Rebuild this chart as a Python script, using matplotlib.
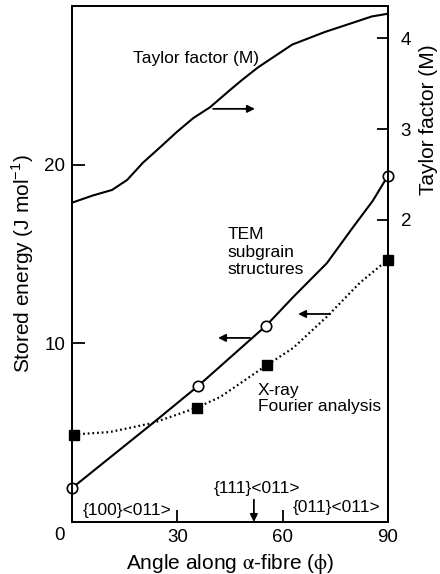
import matplotlib
matplotlib.use("Agg")
import matplotlib.pyplot as plt

plt.rcParams['font.family'] = ['Liberation Sans', 'DejaVu Sans']

# stored energy measurements (J/mol) vs angle along the alpha-fibre
tem_angle = [0, 35.8, 55.3, 90]
tem_energy = [1.9, 7.6, 11.0, 19.4]
xray_angle = [0.5, 35.5, 55.6, 90]
xray_energy = [4.9, 6.4, 8.8, 14.7]

# traced curves through the measurements
tem_curve_angle = [0, 23.1, 35.8, 55.3, 63.0, 72.6, 80.0, 85.7, 90]
tem_curve_energy = [1.9, 5.55, 7.6, 11.0, 12.6, 14.5, 16.5, 18.0, 19.4]
xray_curve_angle = [0.5, 10.8, 23.1, 35.5, 42.2, 55.6, 63.0, 72.6, 82.0, 90]
xray_curve_energy = [4.9, 5.04, 5.55, 6.4, 7.0, 8.8, 9.75, 11.5, 13.4, 14.7]

# Taylor factor along the fibre (right axis)
taylor_angle = [0, 6.0, 11.4, 15.7, 20.2, 25.1, 29.9, 34.5, 39.3, 45.0,
                48.4, 53.0, 62.7, 72.1, 81.5, 85.4, 90]
taylor_m = [2.19, 2.27, 2.33, 2.44, 2.63, 2.80, 2.97, 3.12, 3.24, 3.43,
            3.54, 3.68, 3.93, 4.07, 4.19, 4.24, 4.27]

fig = plt.figure(figsize=(4.4, 5.74), dpi=100)
ax = fig.add_axes([72/440, 52/574, 316/440, 516/574])
ax2 = ax.twinx()

lw = 1.5
ax.plot(tem_curve_angle, tem_curve_energy, color='k', lw=lw, zorder=3)
ax.plot(xray_curve_angle, xray_curve_energy, color='k', lw=1.6,
        linestyle=(0, (0.8, 1.3)), zorder=3)
ax.plot(tem_angle, tem_energy, 'o', ms=7.5, mfc='white', mec='k', mew=1.2,
        clip_on=False, zorder=5)
ax.plot(xray_angle, xray_energy, 's', ms=7, mfc='k', mec='k',
        clip_on=False, zorder=5)
ax2.plot(taylor_angle, taylor_m, color='k', lw=lw)

ax.set_xlim(0, 90)
ax.set_ylim(0, 28.9)
ax2.set_ylim(-1.325, 4.355)

ax.set_xticks([30, 60, 90])
ax.set_yticks([10, 20])
ax2.set_yticks([2, 3, 4])
ax.tick_params(axis='both', direction='in', length=9, width=1.3,
               labelsize=13.5, pad=5)
ax2.tick_params(axis='y', direction='in', length=8, width=1.3,
                labelsize=13.5, pad=9)
for a in (ax, ax2):
    for s in a.spines.values():
        s.set_linewidth(1.4)

# shared origin label sits at the corner
ax.annotate('0', xy=(0, 0), xytext=(-13, -13), textcoords='offset pixels',
            ha='center', va='center', fontsize=13.5)

ax.set_xlabel(r'Angle along $\mathrm{\alpha}$-fibre ($\mathrm{\phi}$)',
              fontsize=15, math_fontfamily='stix', labelpad=4)
ax.set_ylabel(r'Stored energy (J mol$^{\mathregular{-1}}$)', fontsize=15)
ax.yaxis.set_label_coords(-0.115, 0.5)
ax2.set_ylabel('Taylor factor (M)', fontsize=15)
ax2.yaxis.set_label_coords(1.098, 0.78)

arrow = dict(arrowstyle='-|>', lw=1.3, color='k', mutation_scale=11,
             shrinkA=0, shrinkB=0)

ax.text(17.4, 25.94, 'Taylor factor (M)', fontsize=12.5, va='center')
ax.annotate('', xy=(52.1, 23.14), xytext=(40.2, 23.14), arrowprops=arrow)

ax.text(44.4, 15.1, 'TEM\nsubgrain\nstructures', fontsize=12.5,
        va='center', linespacing=1.2)
ax.annotate('', xy=(41.6, 10.31), xytext=(50.7, 10.31), arrowprops=arrow)

ax.text(53.0, 6.92, 'X-ray\nFourier analysis', fontsize=12.5,
        va='center', linespacing=1.15)
ax.annotate('', xy=(64.4, 11.65), xytext=(73.5, 11.65), arrowprops=arrow)

# texture component markers along the axis
ax.text(3.1, 0.67, '{100}<011>', fontsize=12.5, va='center')
ax.text(62.9, 0.84, '{011}<011>', fontsize=12.5, va='center')
ax.text(52.7, 1.9, '{111}<011>', fontsize=12.5, va='center', ha='center')
ax.annotate('', xy=(51.8, 0.0), xytext=(51.8, 1.25), arrowprops=arrow)

fig.savefig('out.png', dpi=100)
